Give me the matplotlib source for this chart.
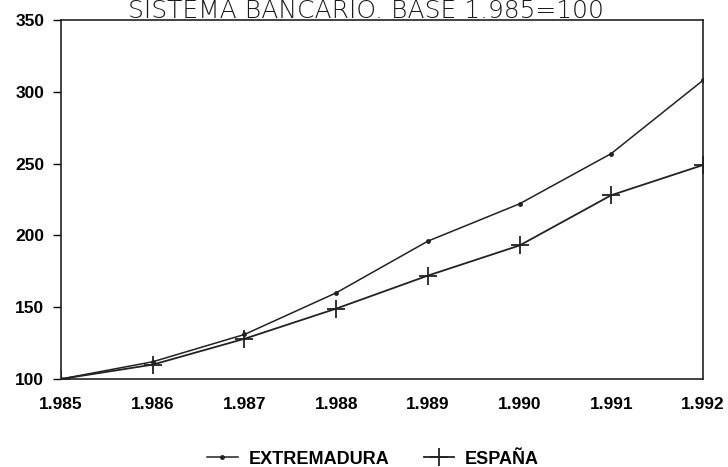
import matplotlib
matplotlib.use("Agg")
import matplotlib.pyplot as plt

years = [1985, 1986, 1987, 1988, 1989, 1990, 1991, 1992]
year_labels = ["1.985", "1.986", "1.987", "1.988", "1.989", "1.990", "1.991", "1.992"]
extremadura = [100, 112, 131, 160, 196, 222, 257, 308]
espana = [100, 110, 128, 149, 172, 193, 228, 249]
y_ticks = [100, 150, 200, 250, 300, 350]

plt.rcParams["font.family"] = ["Liberation Sans", "DejaVu Sans"]

fig = plt.figure(figsize=(7.28, 4.67), dpi=100)
ax = fig.add_axes([61 / 728, 1 - 379 / 467, 642 / 728, 359 / 467])

ax.plot(years, extremadura, color="#222222", lw=1.1, marker="o", ms=2.5,
        label="EXTREMADURA")
ax.plot(years, espana, color="#222222", lw=1.3, marker="+", ms=13, mew=1.3,
        label="ESPAÑA")

ax.set_xlim(1985, 1992)
ax.set_ylim(100, 350)
ax.set_xticks(years)
ax.set_xticklabels(year_labels)
ax.set_yticks(y_ticks)
ax.tick_params(axis="y", direction="out", length=6, width=1, pad=6, labelsize=12.5)
ax.tick_params(axis="x", length=0, pad=13, labelsize=12.5)
for lab in ax.get_xticklabels() + ax.get_yticklabels():
    lab.set_fontweight("bold")
for sp in ax.spines.values():
    sp.set_linewidth(1.2)
    sp.set_color("#222222")

# title sits tight against the top edge, as in the scan
fig.text(366 / 728, 1 - 18.5 / 467, "SISTEMA BANCARIO. BASE 1.985=100",
         ha="center", va="baseline", fontsize=18, color="#1a1a1a",
         family=["DejaVu Sans"], fontweight="light")

leg = fig.legend(loc="center", bbox_to_anchor=(373 / 728, 1 - 459 / 467),
                 ncol=2, frameon=False, handlelength=1.7, columnspacing=1.9,
                 handletextpad=0.6, prop={"weight": "bold", "size": 13})

fig.savefig("out.png", dpi=100)
